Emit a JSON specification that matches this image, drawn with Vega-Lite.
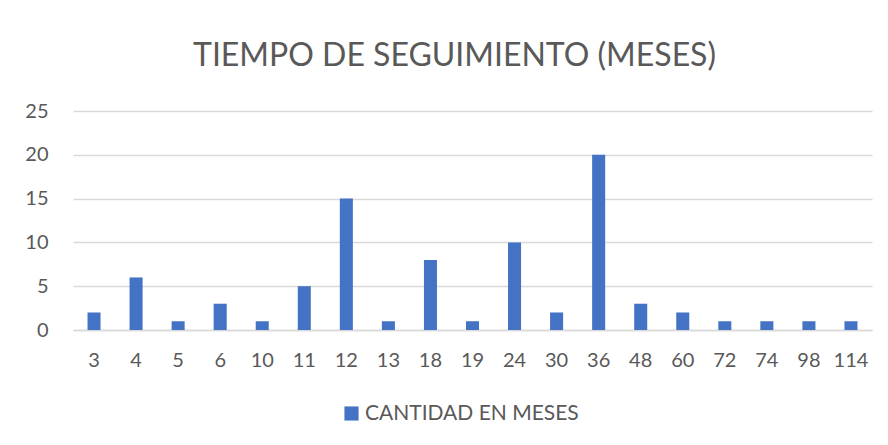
{
  "$schema": "https://vega.github.io/schema/vega-lite/v6.json",
  "autosize": "none",
  "width": 799,
  "height": 219,
  "padding": {"left": 73, "top": 111, "right": 16, "bottom": 115},
  "background": "white",
  "title": {
    "text": "TIEMPO DE SEGUIMIENTO (MESES)",
    "font": "Lato",
    "fontSize": 32,
    "fontWeight": "normal",
    "color": "#595959",
    "anchor": "middle",
    "dx": -18,
    "offset": 28
  },
  "data": {
    "values": [
      {"mes": 3, "cantidad": 2, "serie": "CANTIDAD EN MESES"},
      {"mes": 4, "cantidad": 6, "serie": "CANTIDAD EN MESES"},
      {"mes": 5, "cantidad": 1, "serie": "CANTIDAD EN MESES"},
      {"mes": 6, "cantidad": 3, "serie": "CANTIDAD EN MESES"},
      {"mes": 10, "cantidad": 1, "serie": "CANTIDAD EN MESES"},
      {"mes": 11, "cantidad": 5, "serie": "CANTIDAD EN MESES"},
      {"mes": 12, "cantidad": 15, "serie": "CANTIDAD EN MESES"},
      {"mes": 13, "cantidad": 1, "serie": "CANTIDAD EN MESES"},
      {"mes": 18, "cantidad": 8, "serie": "CANTIDAD EN MESES"},
      {"mes": 19, "cantidad": 1, "serie": "CANTIDAD EN MESES"},
      {"mes": 24, "cantidad": 10, "serie": "CANTIDAD EN MESES"},
      {"mes": 30, "cantidad": 2, "serie": "CANTIDAD EN MESES"},
      {"mes": 36, "cantidad": 20, "serie": "CANTIDAD EN MESES"},
      {"mes": 48, "cantidad": 3, "serie": "CANTIDAD EN MESES"},
      {"mes": 60, "cantidad": 2, "serie": "CANTIDAD EN MESES"},
      {"mes": 72, "cantidad": 1, "serie": "CANTIDAD EN MESES"},
      {"mes": 74, "cantidad": 1, "serie": "CANTIDAD EN MESES"},
      {"mes": 98, "cantidad": 1, "serie": "CANTIDAD EN MESES"},
      {"mes": 114, "cantidad": 1, "serie": "CANTIDAD EN MESES"}
    ]
  },
  "mark": {"type": "bar"},
  "encoding": {
    "x": {
      "field": "mes",
      "type": "ordinal",
      "scale": {"paddingInner": 0.69, "paddingOuter": 0.345},
      "axis": {
        "title": null,
        "labelAngle": 0,
        "labelFont": "Lato",
        "labelFontSize": 20,
        "labelColor": "#595959",
        "labelPadding": 20,
        "ticks": false,
        "domainColor": "#d9d9d9",
        "domainWidth": 1.5,
        "grid": false
      }
    },
    "y": {
      "field": "cantidad",
      "type": "quantitative",
      "scale": {"domain": [0, 25]},
      "axis": {
        "title": null,
        "values": [0, 5, 10, 15, 20, 25],
        "labelFont": "Lato",
        "labelFontSize": 20,
        "labelColor": "#595959",
        "labelPadding": 25,
        "ticks": false,
        "domain": false,
        "gridColor": "#d9d9d9",
        "gridWidth": 1.5
      }
    },
    "color": {
      "field": "serie",
      "type": "nominal",
      "scale": {"range": ["#4472C4"]},
      "legend": {
        "title": null,
        "orient": "none",
        "legendX": 268,
        "legendY": 292,
        "symbolType": "square",
        "symbolSize": 200,
        "symbolStrokeWidth": 0,
        "labelFont": "Lato",
        "labelFontSize": 21,
        "labelColor": "#595959",
        "labelOffset": 3,
        "labelLimit": 0
      }
    }
  },
  "config": {
    "view": {"stroke": null}
  }
}
